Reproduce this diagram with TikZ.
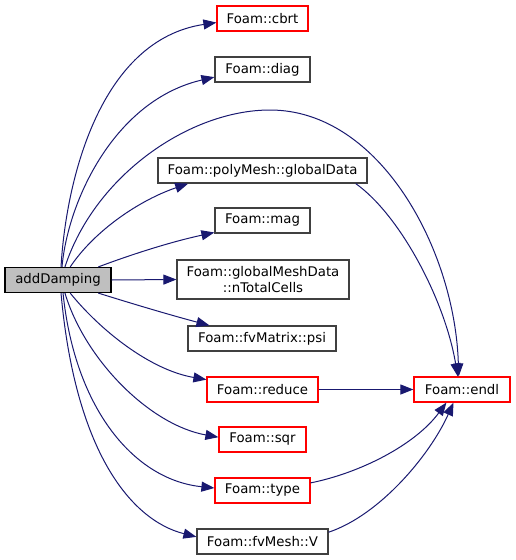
\documentclass[tikz,border=0pt]{standalone}
\usepackage{fontspec}
\setmainfont{DejaVu Sans}
\usetikzlibrary{arrows.meta}
\definecolor{calledge}{RGB}{25,25,112}
\definecolor{callred}{RGB}{255,0,0}
\definecolor{callgray}{RGB}{191,191,191}

\begin{document}
\begin{tikzpicture}[x=1pt,y=-1pt,
    font=\fontsize{13.3}{15.5}\selectfont,
    fn/.style={draw=black!75,line width=1.2pt,fill=white,inner sep=0pt,minimum height=25,align=center},
    fnred/.style={fn,draw=callred},
    fnroot/.style={fn,draw=black,fill=callgray},
    call/.style={calledge,line width=1pt,-{Triangle[length=13pt,width=10pt]}}]
    \useasboundingbox (0,0) rectangle (515,560);

    % Caller
    \node[fnroot,minimum width=106] (addDamping) at (58,280) {addDamping};

    % Callees
    \node[fnred,minimum width=91] (cbrt) at (262.5,18.5) {Foam::cbrt};
    \node[fn,minimum width=95] (diag) at (262.5,69.5) {Foam::diag};
    \node[fn,minimum width=209] (globalData) at (262.5,170.5) {Foam::polyMesh::globalData};
    \node[fn,minimum width=95] (mag) at (262.5,220.5) {Foam::mag};
    \node[fn,minimum width=172,minimum height=39] (nTotalCells) at (263,279.5) {Foam::globalMeshData\\::nTotalCells};
    \node[fn,minimum width=148] (psi) at (262,338.5) {Foam::fvMatrix::psi};
    \node[fnred,minimum width=111] (reduce) at (262.5,389.5) {Foam::reduce};
    \node[fnred,minimum width=87] (sqr) at (262.5,439.5) {Foam::sqr};
    \node[fnred,minimum width=95] (type) at (262.5,490.5) {Foam::type};
    \node[fn,minimum width=131] (V) at (262.5,541.5) {Foam::fvMesh::V};
    \node[fnred,minimum width=96] (endl) at (462,389.5) {Foam::endl};

    % Calls from addDamping
    \draw[call] (addDamping.77) .. controls (66,180) and (100,40) .. (cbrt.185);
    \draw[call] (addDamping.73) .. controls (68,200) and (115,100) .. (diag.189);
    \draw[call] (addDamping.62) .. controls (95,175) and (190,110) .. (270,110)
        .. controls (380,110) and (455,250) .. (endl.104);
    \draw[call] (addDamping.47) .. controls (95,230) and (140,200) .. (globalData.190);
    \draw[call] (addDamping.18) .. controls (130,255) and (170,242) .. (mag.194);
    \draw[call] (addDamping.east) -- (nTotalCells.west);
    \draw[call] (addDamping.-18) .. controls (130,303) and (170,315) .. (psi.166);
    \draw[call] (addDamping.-47) .. controls (100,330) and (150,370) .. (reduce.170);
    \draw[call] (addDamping.-62) .. controls (85,360) and (150,425) .. (sqr.177);
    \draw[call] (addDamping.-69) .. controls (75,410) and (135,480) .. (type.177);
    \draw[call] (addDamping.-77) .. controls (75,450) and (130,520) .. (V.176);

    % Calls to endl
    \draw[call] (globalData.352) .. controls (400,215) and (445,300) .. (endl.108);
    \draw[call] (reduce.east) -- (endl.west);
    \draw[call] (type.9) .. controls (360,473) and (415,445) .. (endl.220);
    \draw[call] (V.8) .. controls (380,515) and (430,455) .. (endl.237);
\end{tikzpicture}
\end{document}
